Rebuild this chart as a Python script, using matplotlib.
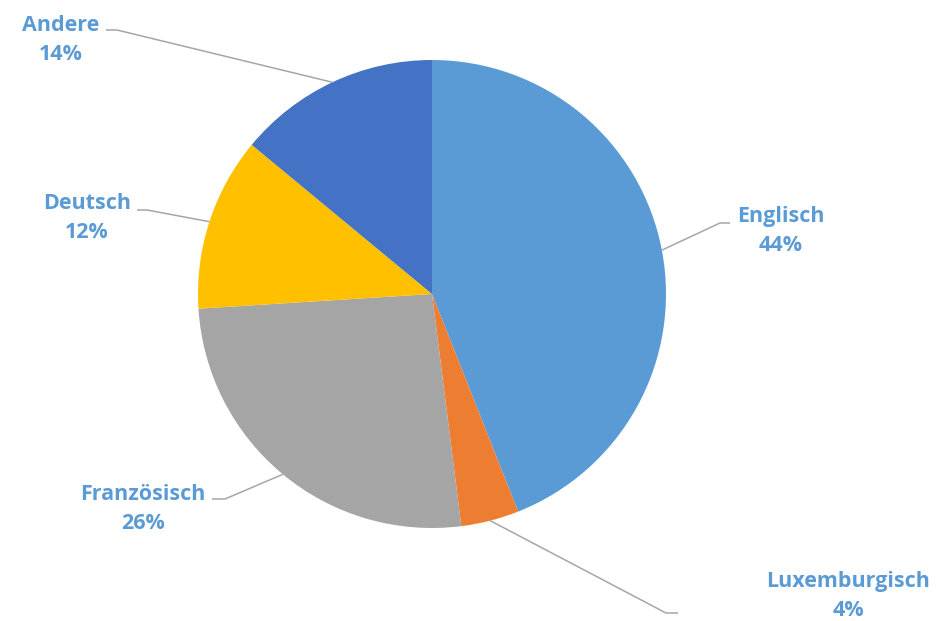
import numpy as np
import matplotlib
matplotlib.use('Agg')
import matplotlib.pyplot as plt

labels = ['Englisch', 'Luxemburgisch', 'Französisch', 'Deutsch', 'Andere']
shares = [44, 4, 26, 12, 14]  # percent
colors = ['#5B9BD5', '#ED7D31', '#A5A5A5', '#FFC000', '#4472C4']

W, H = 936, 621
cx, cy, r = 432, H - 294, 234

# label text centres and elbow points of the leader lines (pixel coords, y from top)
label_pos = [(781, 231), (848, 596), (143, 509), (87, 218), (61, 40)]
elbows = [((720, 223), (730, 223)),
          ((666, 613), (678, 613)),
          ((225, 499), (212, 499)),
          ((147, 210), (137, 210)),
          ((117, 30), (106, 30))]

fig = plt.figure(figsize=(W / 100, H / 100), dpi=100)
ax = fig.add_axes([0, 0, 1, 1])

ax.pie(shares, colors=colors, startangle=90, counterclock=False,
       center=(cx, cy), radius=r, frame=True,
       wedgeprops=dict(linewidth=0))
ax.set_xlim(0, W)
ax.set_ylim(0, H)
ax.set_aspect('equal')
ax.axis('off')

# leader lines from the middle of each wedge edge
start = 90.0
for i, s in enumerate(shares):
    mid = np.deg2rad(start - s * 3.6 / 2)
    start -= s * 3.6
    ex, ey = cx + r * np.cos(mid), cy + r * np.sin(mid)
    (bx, by), (tx, ty) = elbows[i]
    ax.plot([ex, bx, tx], [ey, H - by, H - ty], color='#A6A6A6', lw=1.1,
            solid_capstyle='butt')
    lx, ly = label_pos[i]
    ax.text(lx, H - ly, '%s\n%d%%' % (labels[i], s), ha='center', va='center',
            color='#5B9BD5', fontsize=15.5, fontweight='bold', family='Open Sans',
            linespacing=1.5)

fig.savefig('out.png', dpi=100)
